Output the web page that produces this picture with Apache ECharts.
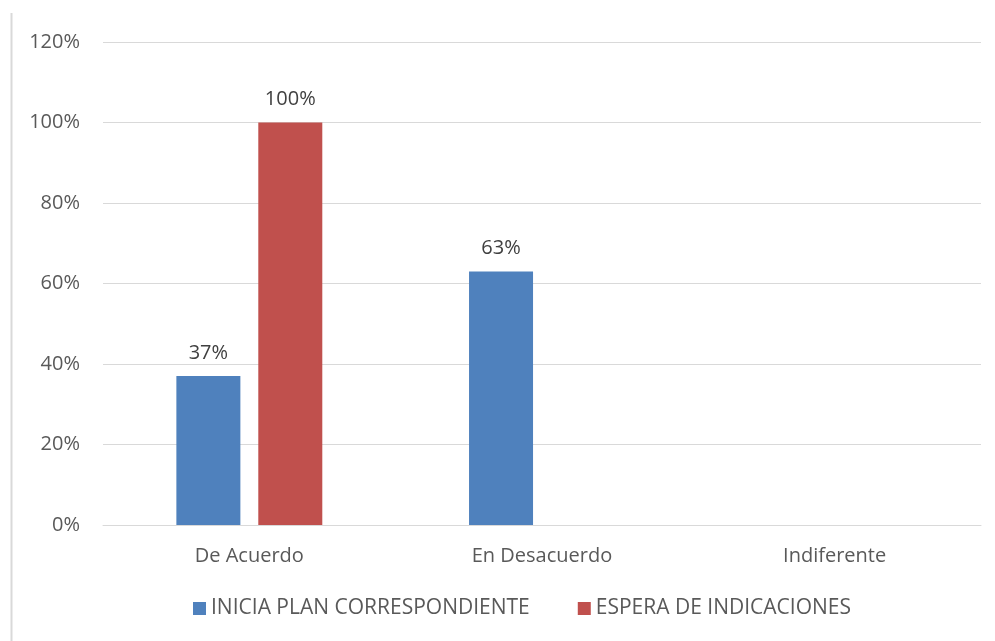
<!DOCTYPE html>
<html>
<head>
<meta charset="utf-8">
<script src="https://cdnjs.cloudflare.com/ajax/libs/echarts/6.0.0/echarts.min.js"></script>
<style>
  html, body { margin: 0; padding: 0; background: #fff; }
  #chart { width: 995px; height: 641px; }
</style>
</head>
<body>
<div id="chart"></div>
<script>
  var categories = ['De Acuerdo', 'En Desacuerdo', 'Indiferente'];
  var iniciaPlan = [37, 63, 0];
  var esperaIndicaciones = [100, 0, 0];
  var seriesNames = ['INICIA PLAN CORRESPONDIENTE', 'ESPERA DE INDICACIONES'];

  var FONT = '"Open Sans", "Noto Sans", sans-serif';
  var TXT = '#595959';

  // hide labels for empty bars
  function valueLabel(p) {
    return p.value ? p.value + '%' : '';
  }

  var chart = echarts.init(document.getElementById('chart'), null, { renderer: 'canvas' });
  chart.setOption({
    backgroundColor: '#fff',
    animation: false,
    textStyle: { fontFamily: FONT },
    grid: { left: 103, right: 14, top: 42, bottom: 116 },
    graphic: [{
      type: 'line',
      shape: { x1: 11.5, y1: 13, x2: 11.5, y2: 641 },
      style: { stroke: '#d9d9d9', lineWidth: 2 }
    }],
    legend: {
      bottom: 17,
      left: 188,
      itemWidth: 13,
      itemHeight: 13,
      itemGap: 48,
      itemTextGap: 7,
      icon: 'rect',
      textStyle: { color: TXT, fontSize: 21, fontFamily: FONT },
      data: seriesNames
    },
    xAxis: {
      type: 'category',
      data: categories,
      axisLine: { lineStyle: { color: '#d9d9d9', width: 1 } },
      axisTick: { show: false },
      axisLabel: { color: TXT, fontSize: 20, margin: 21, fontFamily: FONT }
    },
    yAxis: {
      type: 'value',
      min: 0,
      max: 120,
      interval: 20,
      axisLine: { show: false },
      axisTick: { show: false },
      axisLabel: { color: TXT, fontSize: 20, margin: 23, formatter: '{value}%', fontFamily: FONT },
      splitLine: { lineStyle: { color: '#d9d9d9', width: 1 } }
    },
    series: [
      {
        name: seriesNames[0],
        type: 'bar',
        data: iniciaPlan,
        barWidth: 64,
        barGap: '28%',
        itemStyle: { color: '#4f81bd' },
        label: { show: true, position: 'top', distance: 13, color: '#404040', fontSize: 20, formatter: valueLabel }
      },
      {
        name: seriesNames[1],
        type: 'bar',
        data: esperaIndicaciones,
        barWidth: 64,
        barGap: '28%',
        itemStyle: { color: '#c0504d' },
        label: { show: true, position: 'top', distance: 13, color: '#404040', fontSize: 20, formatter: valueLabel }
      }
    ]
  });
</script>
</body>
</html>
